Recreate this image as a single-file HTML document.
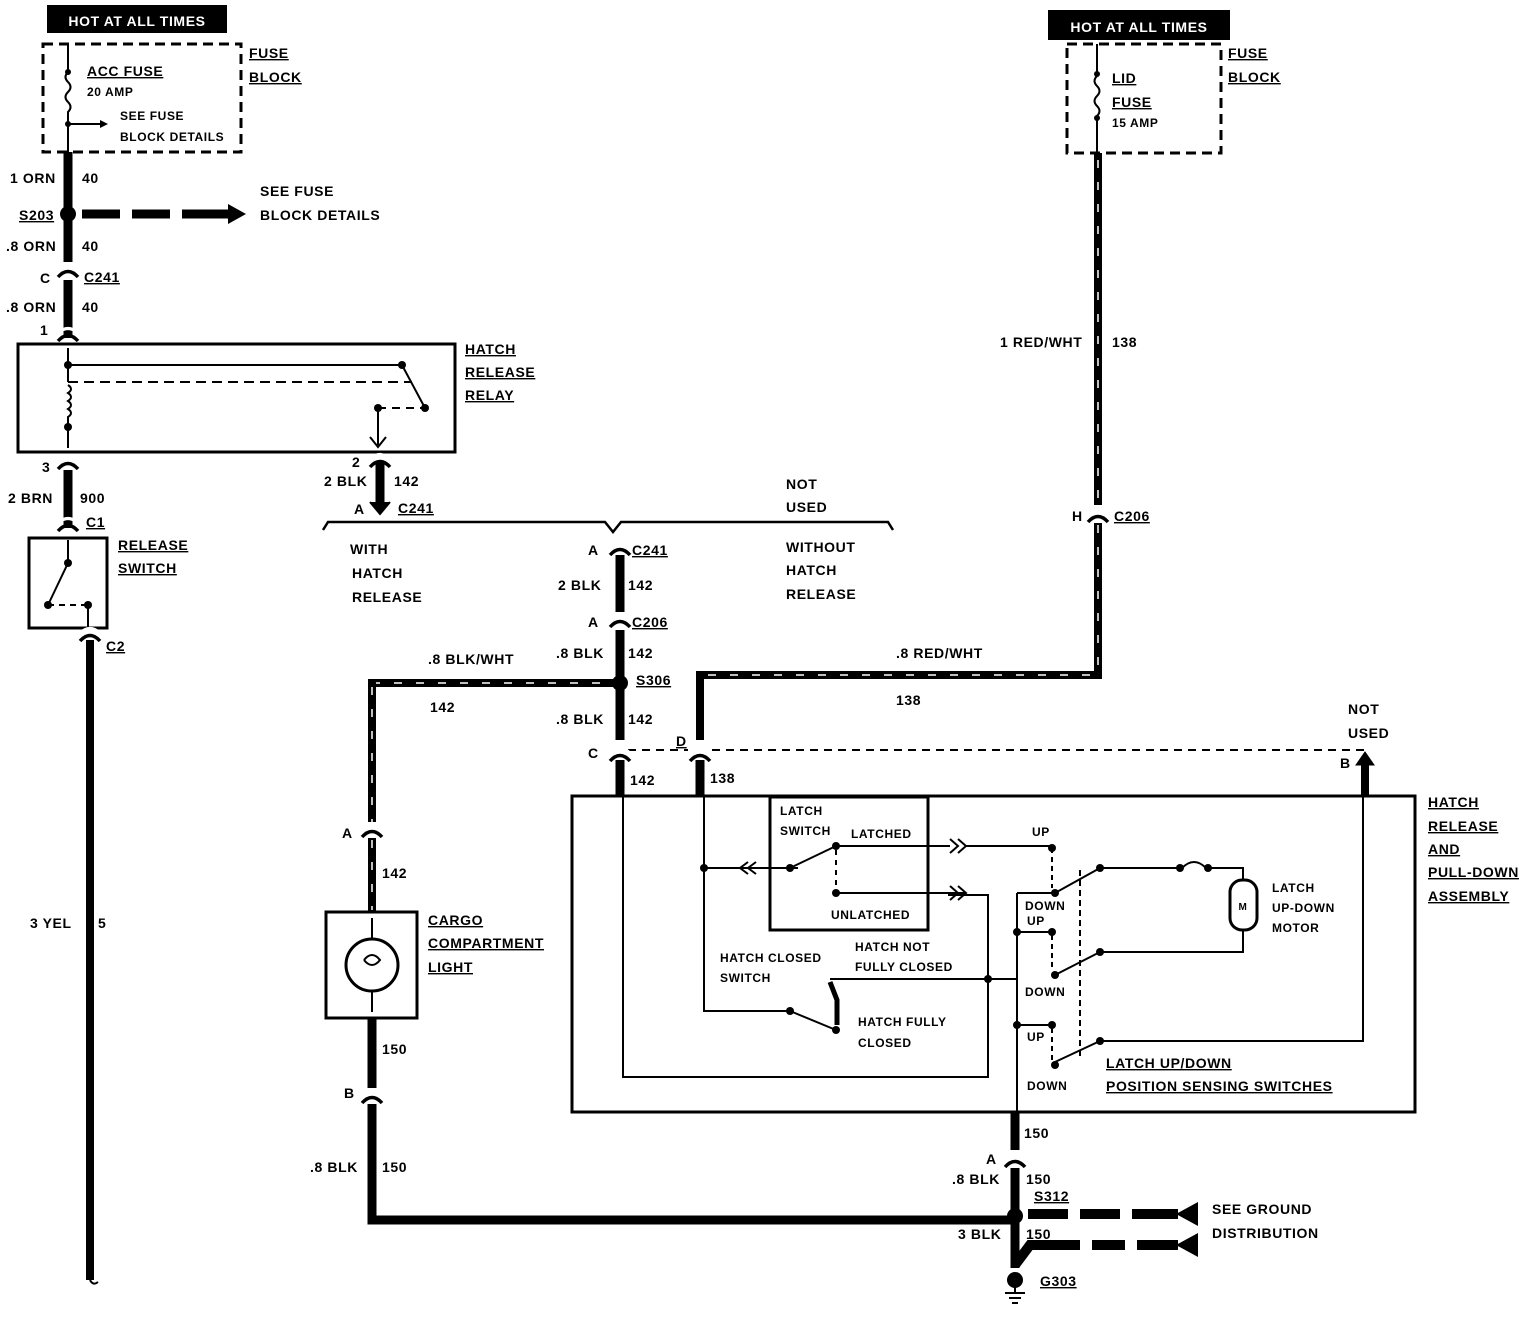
<!DOCTYPE html>
<html><head><meta charset="utf-8"><style>
html,body{margin:0;padding:0;background:#fff;}
svg{display:block}
text{font-family:"Liberation Sans",sans-serif;font-weight:bold;font-size:14px;fill:#000;letter-spacing:0.6px}
.s{font-size:12px}
</style></head><body>
<svg width="1536" height="1320" viewBox="0 0 1536 1320" xmlns="http://www.w3.org/2000/svg">
<defs>
<g id="conn"><path d="M-10 5 Q0 -6 10 5" fill="none" stroke="#000" stroke-width="3.5"/><path d="M-10 -3 Q0 -12 10 -3" fill="none" stroke="#fff" stroke-width="3"/></g>
</defs>
<g stroke="#000" fill="none">
<rect x="43" y="44" width="198" height="108" stroke-width="3" stroke-dasharray="10,6"/>
<path d="M68 44 V70 M68 72 q-5 5 0 10 q5 5 0 10 q-5 5 0 10 q5 5 0 10 V152" stroke-width="2"/>
<path d="M68 124 H100" stroke-width="2"/>
<path d="M68 152 V262 M68 280 V338" stroke-width="9"/>
<path d="M82 214 H120 M132 214 H170 M182 214 H228" stroke-width="9"/>
<rect x="18" y="344" width="437" height="108" stroke-width="3"/>
<path d="M68 348 V365 M68 365 H402 M402 365 L425 408 M68 365 V382 M68 385 q6 4 0 8 q6 4 0 8 q6 4 0 8 q6 4 0 8 V448" stroke-width="2"/>
<path d="M68 382 H412" stroke-width="2" stroke-dasharray="10,6"/>
<path d="M378 408 H425" stroke-width="2" stroke-dasharray="8,6"/>
<path d="M378 408 V445" stroke-width="2"/>
<path d="M370 437 L378 447 L386 437" stroke-width="2"/>
<path d="M68 470 V528" stroke-width="9"/>
<rect x="29" y="538" width="78" height="90" stroke-width="3"/>
<path d="M68 540 V563 L48 605" stroke-width="2"/>
<path d="M48 605 H88" stroke-width="2" stroke-dasharray="6,5"/>
<path d="M88 605 V628" stroke-width="2"/>
<path d="M90 640 V1280" stroke-width="8"/>
<path d="M90 1280 q3 6 8 2" stroke-width="2"/>
<path d="M380 462 V508" stroke-width="9"/>
<path d="M370 502 L380 514 L390 502" fill="#000" stroke-width="2"/>
<path d="M323 530 L328 522 H605 L613 532 L621 522 H888 L893 530" stroke-width="2.5"/>
<path d="M620 555 V612 M620 630 V740 M620 760 V795" stroke-width="9"/>
<path d="M620 683 H372 V822 M372 838 V912" stroke-width="8"/>
<path d="M600 683 H376 M372 687 V822 M372 840 V910" stroke="#fff" stroke-width="1.5" stroke-dasharray="8,14"/>
<rect x="326" y="912" width="91" height="106" stroke-width="3"/>
<circle cx="372" cy="965" r="26" stroke-width="3"/>
<path d="M372 918 V940 M372 990 V1012 M364 960 q8 -10 16 0 q-8 10 -16 0" stroke-width="2"/>
<path d="M372 1018 V1088 M372 1104 V1220 H1015" stroke-width="9"/>
<rect x="1067" y="44" width="154" height="109" stroke-width="3" stroke-dasharray="10,6"/>
<path d="M1097 44 V74 M1097 76 q-5 5 0 10 q5 5 0 10 q-5 5 0 10 q5 5 0 10 V153" stroke-width="2"/>
<path d="M1098 153 V505 M1098 523 V675 H700 V740" stroke-width="8"/>
<path d="M1098 160 V505 M1098 525 V670 M1090 675 H704" stroke="#fff" stroke-width="1.5" stroke-dasharray="8,14"/>
<path d="M700 760 V795" stroke-width="9"/>
<path d="M628 750 H688 M712 750 H1365" stroke-width="2" stroke-dasharray="8,6"/>
<path d="M1365 765 V795" stroke-width="8"/>
<path d="M1356 765 L1365 752 L1374 765 Z" fill="#000"/>
<rect x="572" y="796" width="843" height="316" stroke-width="3"/>
<path d="M623 796 V1077 H988 V895 H948" stroke-width="2"/>
<path d="M704 796 V1011 H790 M790 1011 L836 1030" stroke-width="2"/>
<path d="M704 868 H770 M790 868 L836 846 M836 846 H950 M836 893 H948" stroke-width="2"/>
<path d="M836 850 V890" stroke-width="2" stroke-dasharray="5,5"/>
<rect x="770" y="797" width="158" height="133" stroke-width="3"/>
<path d="M770 868 H798" stroke-width="2"/>
<path d="M748 862 L740 868 L748 874 M756 862 L748 868 L756 874 M950 839 L958 846 L950 853 M958 839 L966 846 L958 853 M950 886 L958 893 L950 900 M958 886 L966 893 L958 900" stroke-width="2"/>
<path d="M966 846 H1052 V848 M966 893 H948" stroke-width="2"/>
<path d="M830 982 L837 1000 V1025" stroke-width="5"/>
<path d="M830 979 H1017" stroke-width="2"/>
<path d="M1052 848 V888" stroke-width="2" stroke-dasharray="5,4"/>
<path d="M1017 893 H1055 L1100 868 H1180 M1182 868 q12 -12 24 0 M1208 868 H1243 V880" stroke-width="2"/>
<path d="M1017 893 V1112 M1017 932 H1052" stroke-width="2"/>
<path d="M1052 935 V970" stroke-width="2" stroke-dasharray="5,4"/>
<path d="M1055 975 L1100 952 H1243 V930" stroke-width="2"/>
<path d="M1017 1025 H1052 M1055 1062 L1100 1041 H1363 V795" stroke-width="2"/>
<path d="M1052 1028 V1060" stroke-width="2" stroke-dasharray="5,4"/>
<path d="M1080 870 V1060" stroke-width="2" stroke-dasharray="6,4"/>
<rect x="1230" y="880" width="27" height="50" rx="12" stroke-width="3"/>
<path d="M1015 1112 V1150 M1015 1168 V1268" stroke-width="9"/>
<path d="M1015 1265 L1030 1245 H1080 M1092 1245 H1125 M1137 1245 H1178 M1028 1214 H1068 M1080 1214 H1120 M1132 1214 H1178" stroke-width="10"/>
<path d="M1015 1285 V1292 M1005 1293 H1025 M1009 1298 H1021 M1012 1303 H1018" stroke-width="2"/>
</g>
<g fill="#000">
<circle cx="68" cy="214" r="8"/><circle cx="620" cy="683" r="8"/><circle cx="1015" cy="1216" r="8"/>
<circle cx="1015" cy="1280" r="8"/>
<path d="M228 204 L246 214 L228 224 Z"/>
<path d="M1176 1214 L1198 1202 V1226 Z"/>
<path d="M1176 1245 L1198 1233 V1257 Z"/>
<path d="M100 120 L108 124 L100 128 Z"/>
<circle cx="68" cy="72" r="3"/><circle cx="68" cy="124" r="3"/><circle cx="1097" cy="74" r="3"/><circle cx="1097" cy="118" r="3"/>
<circle cx="68" cy="365" r="4"/><circle cx="402" cy="365" r="4"/><circle cx="425" cy="408" r="4"/><circle cx="378" cy="408" r="4"/><circle cx="68" cy="427" r="4"/>
<circle cx="68" cy="563" r="4"/><circle cx="48" cy="605" r="4"/><circle cx="88" cy="605" r="4"/>
<circle cx="704" cy="868" r="4"/><circle cx="790" cy="868" r="4"/><circle cx="836" cy="846" r="4"/><circle cx="836" cy="893" r="4"/>
<circle cx="790" cy="1011" r="4"/><circle cx="836" cy="1030" r="4"/><circle cx="988" cy="979" r="4"/>
<circle cx="1052" cy="848" r="4"/><circle cx="1055" cy="893" r="4"/><circle cx="1100" cy="868" r="4"/><circle cx="1180" cy="868" r="4"/><circle cx="1208" cy="868" r="4"/>
<circle cx="1017" cy="932" r="4"/><circle cx="1052" cy="932" r="4"/><circle cx="1055" cy="975" r="4"/><circle cx="1100" cy="952" r="4"/>
<circle cx="1017" cy="1025" r="4"/><circle cx="1052" cy="1025" r="4"/><circle cx="1055" cy="1065" r="4"/><circle cx="1100" cy="1041" r="4"/>
<rect x="47" y="5" width="180" height="28"/>
<rect x="1048" y="10" width="182" height="30"/>
</g>
<use href="#conn" x="68" y="272"/><use href="#conn" x="68" y="336"/><use href="#conn" x="68" y="464"/><use href="#conn" x="68" y="526"/><use href="#conn" x="90" y="636"/>
<use href="#conn" x="380" y="462"/><use href="#conn" x="620" y="550"/><use href="#conn" x="620" y="622"/><use href="#conn" x="620" y="756"/><use href="#conn" x="700" y="756"/>
<use href="#conn" x="372" y="832"/><use href="#conn" x="372" y="1098"/><use href="#conn" x="1098" y="517"/><use href="#conn" x="1015" y="1162"/>
<text x="137" y="26" text-anchor="middle" style="fill:#fff">HOT AT ALL TIMES</text>
<text x="1139" y="32" text-anchor="middle" style="fill:#fff">HOT AT ALL TIMES</text>
<g text-decoration="underline">
<text x="249" y="58">FUSE</text><text x="249" y="82">BLOCK</text>
<text x="87" y="76">ACC FUSE</text>
<text x="1228" y="58">FUSE</text><text x="1228" y="82">BLOCK</text>
<text x="1112" y="83">LID</text><text x="1112" y="107">FUSE</text>
<text x="19" y="220">S203</text><text x="84" y="282">C241</text>
<text x="465" y="354">HATCH</text><text x="465" y="377">RELEASE</text><text x="465" y="400">RELAY</text>
<text x="86" y="527">C1</text><text x="118" y="550">RELEASE</text><text x="118" y="573">SWITCH</text>
<text x="106" y="651">C2</text>
<text x="398" y="513">C241</text><text x="632" y="555">C241</text><text x="632" y="627">C206</text><text x="636" y="685">S306</text>
<text x="1114" y="521">C206</text>
<text x="428" y="925">CARGO</text><text x="428" y="948">COMPARTMENT</text><text x="428" y="972">LIGHT</text>
<text x="1428" y="807">HATCH</text><text x="1428" y="831">RELEASE</text><text x="1428" y="854">AND</text><text x="1428" y="877">PULL-DOWN</text><text x="1428" y="901">ASSEMBLY</text>
<text x="1106" y="1068">LATCH UP/DOWN</text><text x="1106" y="1091">POSITION SENSING SWITCHES</text>
<text x="1034" y="1201">S312</text><text x="1040" y="1286">G303</text>
<text x="676" y="746">D</text>
</g>
<text x="87" y="96" class="s">20 AMP</text>
<text x="120" y="120" class="s">SEE FUSE</text><text x="120" y="141" class="s">BLOCK DETAILS</text>
<text x="1112" y="127" class="s">15 AMP</text>
<text x="10" y="183">1 ORN</text><text x="82" y="183">40</text>
<text x="260" y="196">SEE FUSE</text><text x="260" y="220">BLOCK DETAILS</text>
<text x="6" y="251">.8 ORN</text><text x="82" y="251">40</text>
<text x="40" y="283">C</text>
<text x="6" y="312">.8 ORN</text><text x="82" y="312">40</text>
<text x="40" y="335">1</text><text x="42" y="472">3</text>
<text x="8" y="503">2 BRN</text><text x="80" y="503">900</text>
<text x="352" y="467">2</text><text x="324" y="486">2 BLK</text><text x="394" y="486">142</text><text x="354" y="514">A</text>
<text x="786" y="489">NOT</text><text x="786" y="512">USED</text>
<text x="350" y="554">WITH</text><text x="352" y="578">HATCH</text><text x="352" y="602">RELEASE</text>
<text x="786" y="552">WITHOUT</text><text x="786" y="575">HATCH</text><text x="786" y="599">RELEASE</text>
<text x="588" y="555">A</text><text x="558" y="590">2 BLK</text><text x="628" y="590">142</text>
<text x="588" y="627">A</text><text x="556" y="658">.8 BLK</text><text x="628" y="658">142</text>
<text x="428" y="664">.8 BLK/WHT</text><text x="430" y="712">142</text>
<text x="556" y="724">.8 BLK</text><text x="628" y="724">142</text>
<text x="588" y="758">C</text><text x="630" y="785">142</text><text x="710" y="783">138</text>
<text x="896" y="658">.8 RED/WHT</text><text x="896" y="705">138</text>
<text x="1000" y="347">1 RED/WHT</text><text x="1112" y="347">138</text><text x="1072" y="521">H</text>
<text x="1348" y="714">NOT</text><text x="1348" y="738">USED</text><text x="1340" y="768">B</text>
<text x="342" y="838">A</text><text x="382" y="878">142</text>
<text x="382" y="1054">150</text><text x="344" y="1098">B</text>
<text x="310" y="1172">.8 BLK</text><text x="382" y="1172">150</text>
<text x="30" y="928">3 YEL</text><text x="98" y="928">5</text>
<text x="1024" y="1138">150</text><text x="986" y="1164">A</text>
<text x="952" y="1184">.8 BLK</text><text x="1026" y="1184">150</text>
<text x="958" y="1239">3 BLK</text><text x="1026" y="1239">150</text>
<text x="1212" y="1214">SEE GROUND</text><text x="1212" y="1238">DISTRIBUTION</text>
<text x="780" y="815" class="s">LATCH</text><text x="780" y="835" class="s">SWITCH</text><text x="851" y="838" class="s">LATCHED</text>
<text x="831" y="919" class="s">UNLATCHED</text><text x="1032" y="836" class="s">UP</text>
<text x="1025" y="910" class="s">DOWN</text><text x="1027" y="925" class="s">UP</text>
<text x="1025" y="996" class="s">DOWN</text><text x="1027" y="1041" class="s">UP</text><text x="1027" y="1090" class="s">DOWN</text>
<text x="720" y="962" class="s">HATCH CLOSED</text><text x="720" y="982" class="s">SWITCH</text>
<text x="855" y="951" class="s">HATCH NOT</text><text x="855" y="971" class="s">FULLY CLOSED</text>
<text x="858" y="1026" class="s">HATCH FULLY</text><text x="858" y="1047" class="s">CLOSED</text>
<text x="1272" y="892" class="s">LATCH</text><text x="1272" y="912" class="s">UP-DOWN</text><text x="1272" y="932" class="s">MOTOR</text>
<text x="1243" y="910" class="s" text-anchor="middle" style="font-size:10px">M</text>
</svg>
</body></html>
